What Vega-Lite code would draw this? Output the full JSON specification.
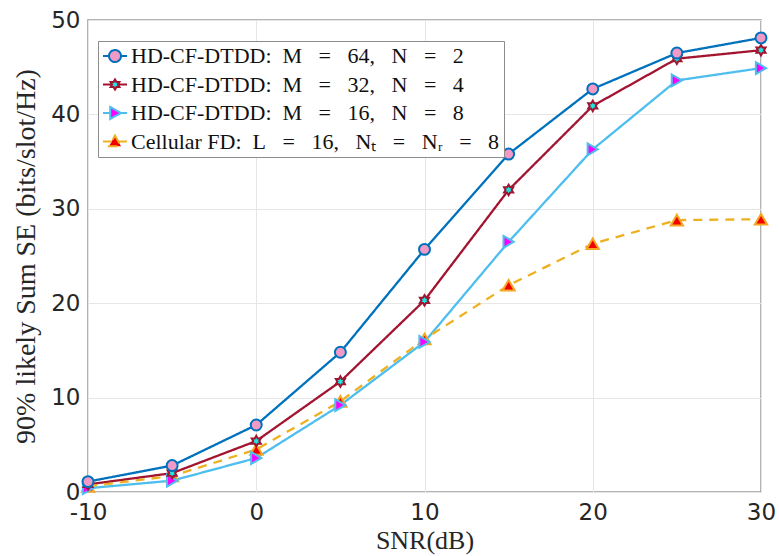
{
  "$schema": "https://vega.github.io/schema/vega-lite/v6.json",
  "width": 673,
  "height": 472,
  "autosize": {"type": "none"},
  "padding": {"left": 88, "top": 20, "right": 18, "bottom": 64},
  "background": "white",
  "config": {
    "view": {"stroke": "#9a9a9a", "strokeWidth": 1.5},
    "axis": {
      "labelFont": "DejaVu Sans",
      "labelFontSize": 23,
      "labelColor": "#262626",
      "labelFlush": false,
      "labelOverlap": false,
      "titleFont": "Liberation Serif",
      "titleFontSize": 28,
      "titleFontWeight": "normal",
      "titleColor": "#262626",
      "grid": true,
      "gridColor": "#e6e6e6",
      "gridWidth": 1,
      "domain": false,
      "ticks": false
    },
    "legend": {
      "orient": "none",
      "legendX": 10,
      "legendY": 21,
      "title": null,
      "labelFont": "Liberation Serif",
      "labelFontSize": 22,
      "labelColor": "#111111",
      "labelLimit": 600,
      "symbolSize": 144,
      "symbolStrokeWidth": 2,
      "symbolOpacity": 1,
      "symbolOffset": 2,
      "labelOffset": 5,
      "padding": 4,
      "rowPadding": 6.5,
      "strokeColor": "#8c8c8c",
      "fillColor": "white"
    }
  },
  "data": {
    "values": [
      {"snr": -10, "se": 1.1, "series": "HD-CF-DTDD: M = 64, N = 2"},
      {"snr": -5, "se": 2.8, "series": "HD-CF-DTDD: M = 64, N = 2"},
      {"snr": 0, "se": 7.1, "series": "HD-CF-DTDD: M = 64, N = 2"},
      {"snr": 5, "se": 14.8, "series": "HD-CF-DTDD: M = 64, N = 2"},
      {"snr": 10, "se": 25.7, "series": "HD-CF-DTDD: M = 64, N = 2"},
      {"snr": 15, "se": 35.8, "series": "HD-CF-DTDD: M = 64, N = 2"},
      {"snr": 20, "se": 42.7, "series": "HD-CF-DTDD: M = 64, N = 2"},
      {"snr": 25, "se": 46.5, "series": "HD-CF-DTDD: M = 64, N = 2"},
      {"snr": 30, "se": 48.1, "series": "HD-CF-DTDD: M = 64, N = 2"},
      {"snr": -10, "se": 0.8, "series": "HD-CF-DTDD: M = 32, N = 4"},
      {"snr": -5, "se": 2.0, "series": "HD-CF-DTDD: M = 32, N = 4"},
      {"snr": 0, "se": 5.4, "series": "HD-CF-DTDD: M = 32, N = 4"},
      {"snr": 5, "se": 11.7, "series": "HD-CF-DTDD: M = 32, N = 4"},
      {"snr": 10, "se": 20.3, "series": "HD-CF-DTDD: M = 32, N = 4"},
      {"snr": 15, "se": 32.0, "series": "HD-CF-DTDD: M = 32, N = 4"},
      {"snr": 20, "se": 40.9, "series": "HD-CF-DTDD: M = 32, N = 4"},
      {"snr": 25, "se": 45.9, "series": "HD-CF-DTDD: M = 32, N = 4"},
      {"snr": 30, "se": 46.8, "series": "HD-CF-DTDD: M = 32, N = 4"},
      {"snr": -10, "se": 0.4, "series": "HD-CF-DTDD: M = 16, N = 8"},
      {"snr": -5, "se": 1.2, "series": "HD-CF-DTDD: M = 16, N = 8"},
      {"snr": 0, "se": 3.6, "series": "HD-CF-DTDD: M = 16, N = 8"},
      {"snr": 5, "se": 9.2, "series": "HD-CF-DTDD: M = 16, N = 8"},
      {"snr": 10, "se": 15.9, "series": "HD-CF-DTDD: M = 16, N = 8"},
      {"snr": 15, "se": 26.5, "series": "HD-CF-DTDD: M = 16, N = 8"},
      {"snr": 20, "se": 36.3, "series": "HD-CF-DTDD: M = 16, N = 8"},
      {"snr": 25, "se": 43.6, "series": "HD-CF-DTDD: M = 16, N = 8"},
      {"snr": 30, "se": 44.9, "series": "HD-CF-DTDD: M = 16, N = 8"},
      {"snr": -10, "se": 0.6, "series": "Cellular FD: L = 16, Nₜ = Nᵣ = 8"},
      {"snr": -5, "se": 1.7, "series": "Cellular FD: L = 16, Nₜ = Nᵣ = 8"},
      {"snr": 0, "se": 4.5, "series": "Cellular FD: L = 16, Nₜ = Nᵣ = 8"},
      {"snr": 5, "se": 9.6, "series": "Cellular FD: L = 16, Nₜ = Nᵣ = 8"},
      {"snr": 10, "se": 16.2, "series": "Cellular FD: L = 16, Nₜ = Nᵣ = 8"},
      {"snr": 15, "se": 21.9, "series": "Cellular FD: L = 16, Nₜ = Nᵣ = 8"},
      {"snr": 20, "se": 26.3, "series": "Cellular FD: L = 16, Nₜ = Nᵣ = 8"},
      {"snr": 25, "se": 28.8, "series": "Cellular FD: L = 16, Nₜ = Nᵣ = 8"},
      {"snr": 30, "se": 28.9, "series": "Cellular FD: L = 16, Nₜ = Nᵣ = 8"}
    ]
  },
  "encoding": {
    "x": {
      "field": "snr",
      "type": "quantitative",
      "scale": {"domain": [-10, 30], "nice": false, "zero": false},
      "axis": {
        "title": "SNR(dB)",
        "titleFontSize": 26,
        "values": [-10, 0, 10, 20, 30],
        "labelExpr": "'' + datum.value",
        "labelPadding": 9,
        "titlePadding": 3
      }
    },
    "y": {
      "field": "se",
      "type": "quantitative",
      "scale": {"domain": [0, 50], "nice": false},
      "axis": {
        "title": "90% likely Sum SE (bits/slot/Hz)",
        "values": [0, 10, 20, 30, 40, 50],
        "labelPadding": 8,
        "titlePadding": 10
      }
    }
  },
  "layer": [
    {
      "mark": {"type": "line", "strokeWidth": 2.3},
      "encoding": {
        "color": {
          "field": "series",
          "type": "nominal",
          "scale": {
            "domain": ["HD-CF-DTDD: M = 64, N = 2", "HD-CF-DTDD: M = 32, N = 4", "HD-CF-DTDD: M = 16, N = 8", "Cellular FD: L = 16, Nₜ = Nᵣ = 8"],
            "range": ["#0072BD", "#A2142F", "#4DBEEE", "#EDB120"]
          },
          "legend": {"title": null, "labelFont": "Liberation Serif", "labelExpr": "replace(replace(replace(datum.label, regexp(' = ', 'g'), '\u00a0\u00a0 =\u00a0\u00a0 '), regexp(', ', 'g'), ',\u00a0\u00a0 '), regexp(': ', 'g'), ':\u00a0 ')"}
        },
        "strokeDash": {
          "field": "series",
          "type": "nominal",
          "scale": {
            "domain": ["HD-CF-DTDD: M = 64, N = 2", "HD-CF-DTDD: M = 32, N = 4", "HD-CF-DTDD: M = 16, N = 8", "Cellular FD: L = 16, Nₜ = Nᵣ = 8"],
            "range": [[1, 0], [1, 0], [1, 0], [9, 7]]
          },
          "legend": {"title": null, "labelFont": "Liberation Serif", "labelExpr": "replace(replace(replace(datum.label, regexp(' = ', 'g'), '\u00a0\u00a0 =\u00a0\u00a0 '), regexp(', ', 'g'), ',\u00a0\u00a0 '), regexp(': ', 'g'), ':\u00a0 ')"}
        }
      }
    },
    {
      "transform": [{"filter": "datum.series === 'Cellular FD: L = 16, Nₜ = Nᵣ = 8'"}],
      "mark": {"type": "point", "shape": "triangle-up", "filled": true, "fill": "#F20000", "stroke": "#F5A623", "strokeWidth": 2, "size": 150, "opacity": 1}
    },
    {
      "transform": [{"filter": "datum.series === 'HD-CF-DTDD: M = 16, N = 8'"}],
      "mark": {"type": "point", "shape": "triangle-right", "filled": true, "fill": "#FF00FF", "stroke": "#4DBEEE", "strokeWidth": 2, "size": 140, "opacity": 1}
    },
    {
      "transform": [{"filter": "datum.series === 'HD-CF-DTDD: M = 32, N = 4'"}],
      "mark": {"type": "point", "shape": "M0,-1L0.289,-0.5L0.866,-0.5L0.577,0L0.866,0.5L0.289,0.5L0,1L-0.289,0.5L-0.866,0.5L-0.577,0L-0.866,-0.5L-0.289,-0.5Z", "filled": true, "fill": "#1EE6E0", "stroke": "#A2142F", "strokeWidth": 2, "size": 110, "opacity": 1}
    },
    {
      "transform": [{"filter": "datum.series === 'HD-CF-DTDD: M = 64, N = 2'"}],
      "mark": {"type": "point", "shape": "circle", "filled": true, "fill": "#F29AC6", "stroke": "#0072BD", "strokeWidth": 2, "size": 120, "opacity": 1}
    },
    {
      "mark": {"type": "point", "filled": true, "opacity": 0, "strokeWidth": 2},
      "encoding": {
        "shape": {
          "field": "series",
          "type": "nominal",
          "scale": {
            "domain": ["HD-CF-DTDD: M = 64, N = 2", "HD-CF-DTDD: M = 32, N = 4", "HD-CF-DTDD: M = 16, N = 8", "Cellular FD: L = 16, Nₜ = Nᵣ = 8"],
            "range": [
              "M-2,0H-1M1,0H2M-1,0A1,1,0,1,1,1,0A1,1,0,1,1,-1,0Z",
              "M-2,0H-0.5M0.5,0H2M0,-0.85L0.245,-0.425L0.736,-0.425L0.49,0L0.736,0.425L0.245,0.425L0,0.85L-0.245,0.425L-0.736,0.425L-0.49,0L-0.736,-0.425L-0.245,-0.425Z",
              "M-2,0H-0.8M1,0H2M-0.8,-1L1,0L-0.8,1Z",
              "M-2,0H-0.55M0.55,0H2M0,-1L1,0.8L-1,0.8Z"
            ]
          },
          "legend": {"title": null, "labelFont": "Liberation Serif", "labelExpr": "replace(replace(replace(datum.label, regexp(' = ', 'g'), '\u00a0\u00a0 =\u00a0\u00a0 '), regexp(', ', 'g'), ',\u00a0\u00a0 '), regexp(': ', 'g'), ':\u00a0 ')"}
        },
        "fill": {
          "field": "series",
          "type": "nominal",
          "scale": {
            "domain": ["HD-CF-DTDD: M = 64, N = 2", "HD-CF-DTDD: M = 32, N = 4", "HD-CF-DTDD: M = 16, N = 8", "Cellular FD: L = 16, Nₜ = Nᵣ = 8"],
            "range": ["#F29AC6", "#1EE6E0", "#FF00FF", "#F20000"]
          },
          "legend": {"title": null, "labelFont": "Liberation Serif", "labelExpr": "replace(replace(replace(datum.label, regexp(' = ', 'g'), '\u00a0\u00a0 =\u00a0\u00a0 '), regexp(', ', 'g'), ',\u00a0\u00a0 '), regexp(': ', 'g'), ':\u00a0 ')"}
        },
        "stroke": {
          "field": "series",
          "type": "nominal",
          "scale": {
            "domain": ["HD-CF-DTDD: M = 64, N = 2", "HD-CF-DTDD: M = 32, N = 4", "HD-CF-DTDD: M = 16, N = 8", "Cellular FD: L = 16, Nₜ = Nᵣ = 8"],
            "range": ["#0072BD", "#A2142F", "#4DBEEE", "#EDB120"]
          },
          "legend": {"title": null, "labelFont": "Liberation Serif", "labelExpr": "replace(replace(replace(datum.label, regexp(' = ', 'g'), '\u00a0\u00a0 =\u00a0\u00a0 '), regexp(', ', 'g'), ',\u00a0\u00a0 '), regexp(': ', 'g'), ':\u00a0 ')"}
        }
      }
    }
  ]
}
